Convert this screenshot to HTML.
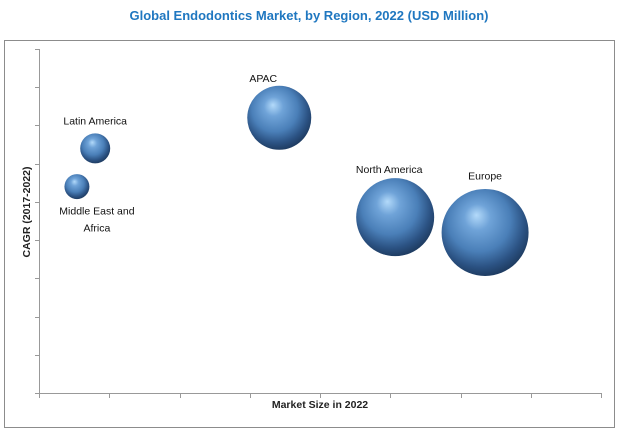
<!DOCTYPE html>
<html><head><meta charset="utf-8"><style>
body{margin:0;background:#fff;}
svg{display:block;font-family:"Liberation Sans",sans-serif;}
</style></head><body>
<svg width="618" height="433" viewBox="0 0 618 433">
<defs>
<radialGradient id="ball" cx="0.45" cy="0.4" r="0.6" fx="0.4" fy="0.3">
<stop offset="0" stop-color="#b3dafa"/>
<stop offset="0.25" stop-color="#6fa3d8"/>
<stop offset="0.6" stop-color="#4a7fb8"/>
<stop offset="0.85" stop-color="#2b5283"/>
<stop offset="1" stop-color="#1f3d63"/>
</radialGradient>
</defs>
<text x="309" y="20" text-anchor="middle" font-size="13" font-weight="bold" fill="#1f77c0">Global Endodontics Market, by Region, 2022 (USD Million)</text>
<rect x="4.5" y="40.5" width="610" height="387" fill="none" stroke="#8c8c8c"/>
<g id="axes"></g>
<g id="bubbles"></g>
<text transform="translate(30,212) rotate(-90)" text-anchor="middle" font-size="10.5" font-weight="bold" fill="#222">CAGR (2017-2022)</text>
<text x="320" y="408" text-anchor="middle" font-size="10.5" font-weight="bold" fill="#222">Market Size in 2022</text>
</svg>
<script>
const regions = ["Latin America","Middle East and Africa","APAC","North America","Europe"];
const marketSize = [0.80,0.54,3.42,5.07,6.35];
const cagr = [6.4,5.4,7.2,4.6,4.2];
const bubbleSize = [225,156,1024,1521,1892];
const labelLines = [["Latin America"],["Middle East and","Africa"],["APAC"],["North America"],["Europe"]];
const labelDx = [0,20,-16,-6,0];
const labelDy = [-24,28,-36,-44,-53];

const X0=39,X1=601,Y0=393,Y1=49,XMAX=8,YMAX=9;
function sx(v){return X0+(X1-X0)*v/XMAX;}
function sy(v){return Y0-(Y0-Y1)*v/YMAX;}
const NS="http://www.w3.org/2000/svg";
const axes=document.getElementById('axes');
function line(x1,y1,x2,y2,c){const l=document.createElementNS(NS,'line');l.setAttribute('x1',x1);l.setAttribute('y1',y1);l.setAttribute('x2',x2);l.setAttribute('y2',y2);l.setAttribute('stroke',c);axes.appendChild(l);return l;}
let a=line(X0+0.5,Y1,X0+0.5,Y0,'#999');


a=line(X0,Y0+0.5,X1,Y0+0.5,'#999');


for(let i=0;i<=YMAX;i++){const y=Math.round(sy(i))+0.5;const t=line(X0-4,y,X0,y,'#999');

}
for(let i=0;i<=XMAX;i++){const x=Math.round(sx(i))+0.5;const t=line(x,Y0,x,Y0+5,'#999');

}
const g=document.getElementById('bubbles');
regions.forEach((r,i)=>{
 const cx=sx(marketSize[i]),cy=sy(cagr[i]),rad=Math.sqrt(bubbleSize[i]);
 const c=document.createElementNS(NS,'circle');
 c.setAttribute('cx',cx);c.setAttribute('cy',cy);c.setAttribute('r',rad);c.setAttribute('fill','url(#ball)');
 
 
 g.appendChild(c);
 labelLines[i].forEach((ln,j)=>{
  const t=document.createElementNS(NS,'text');
  t.setAttribute('x',cx+labelDx[i]);t.setAttribute('y',cy+labelDy[i]+j*17);
  t.setAttribute('text-anchor','middle');t.setAttribute('font-size','10.5');t.setAttribute('fill','#111');
  t.textContent=ln;
  
  
  g.appendChild(t);
 });
});
</script>
</body></html>
